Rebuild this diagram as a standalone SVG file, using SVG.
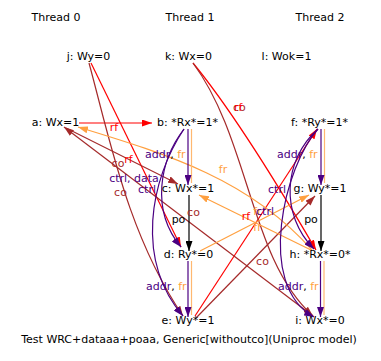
<svg xmlns="http://www.w3.org/2000/svg" width="381" height="361" viewBox="0 0 381 361">
<style>
text{font-family:"DejaVu Sans","Noto Sans",sans-serif;font-size:11px;fill:#000}
.m{text-anchor:middle}
.e{fill:none;stroke-width:1.2}
.rf{stroke:#ff0000}
.co{stroke:#a52a2a}
.fr{stroke:#ffa040}
.dp{stroke:#4b0082}
.po{stroke:#000}
.frs{stroke:#ffb870}
.lrf{fill:#ff0000}
.lco{fill:#a52a2a}
.lfr{fill:#ffa040}
.ldp{fill:#4b0082}
</style>
<defs>
<marker id="ar" markerUnits="userSpaceOnUse" markerWidth="10" markerHeight="7" refX="10" refY="3.5" orient="auto"><path d="M0,0L10,3.5L0,7z" fill="#ff0000"/></marker>
<marker id="ac" markerUnits="userSpaceOnUse" markerWidth="10" markerHeight="7" refX="10" refY="3.5" orient="auto"><path d="M0,0L10,3.5L0,7z" fill="#a52a2a"/></marker>
<marker id="af" markerUnits="userSpaceOnUse" markerWidth="10" markerHeight="7" refX="10" refY="3.5" orient="auto"><path d="M0,0L10,3.5L0,7z" fill="#ffa040"/></marker>
<marker id="ad" markerUnits="userSpaceOnUse" markerWidth="10" markerHeight="7" refX="10" refY="3.5" orient="auto"><path d="M0,0L10,3.5L0,7z" fill="#4b0082"/></marker>
<marker id="ap" markerUnits="userSpaceOnUse" markerWidth="10" markerHeight="7" refX="10" refY="3.5" orient="auto"><path d="M0,0L10,3.5L0,7z" fill="#000"/></marker>
</defs>
<rect width="381" height="361" fill="#fff"/>
<g id="headers">
<text class="m" x="56" y="21">Thread 0</text>
<text class="m" x="190" y="21">Thread 1</text>
<text class="m" x="320" y="21">Thread 2</text>
</g>
<g id="connectors">
<!-- red rf edges -->
<path class="e rf" d="M79,123L152,123" marker-end="url(#ar)"/>
<path class="e rf" d="M91,63L181,247" marker-end="url(#ar)"/>
<path class="e rf" d="M193,63Q240,120 316,250" marker-end="url(#ar)"/>
<path class="e rf" d="M195,316L317,129" marker-end="url(#ar)"/>
<!-- brown co edges -->
<path class="e co" d="M89,63C110,140 128,235 183,316" marker-end="url(#ac)"/>
<path class="e co" d="M193,63C250,140 250,260 313,316" marker-end="url(#ac)"/>
<path class="e co" d="M313,316L64,127" marker-end="url(#ac)"/>
<path class="e co" d="M66,128L178,184" marker-end="url(#ac)"/>
<path class="e co" d="M196,318L315,196" marker-end="url(#ac)"/>
<!-- orange fr edges -->
<path class="e fr" d="M200,251L309,195" marker-end="url(#af)"/>
<path class="e fr" d="M311,250L199,195" marker-end="url(#af)"/>
<path class="e fr" d="M312,250C250,180 170,155 78,127" marker-end="url(#af)"/>
<!-- purple dependency curves -->
<path class="e dp" d="M184,129C160,160 150,210 181,247" marker-end="url(#ad)"/>
<path class="e dp" d="M184,129C150,180 135,260 183,316" marker-end="url(#ad)"/>
<path class="e dp" d="M318,129C283,160 280,215 314,249" marker-end="url(#ad)"/>
<path class="e dp" d="M318,129C285,165 255,285 314,317" marker-end="url(#ad)"/>
<!-- program order verticals -->
<path class="e frs" d="M191.5,129L191.5,183"/>
<path class="e dp" d="M188,129L188,185" marker-end="url(#ad)"/>
<path class="e po" d="M189,195L189,251" marker-end="url(#ap)"/>
<path class="e frs" d="M191.5,261L191.5,315"/>
<path class="e dp" d="M188,261L188,317" marker-end="url(#ad)"/>
<path class="e frs" d="M324.5,129L324.5,183"/>
<path class="e dp" d="M321,129L321,185" marker-end="url(#ad)"/>
<path class="e po" d="M321,195L321,251" marker-end="url(#ap)"/>
<path class="e frs" d="M324,261L324,315"/>
<path class="e dp" d="M320.5,261L320.5,317" marker-end="url(#ad)"/>
<!-- labels -->
<text class="m lrf" x="114" y="131">rf</text>
<text class="m lco" x="118" y="167">co</text>
<text class="m lrf" x="128.5" y="163">rf</text>
<text class="m ldp" x="134" y="182">ctrl, data</text>
<text class="m ldp" x="147" y="193">ctrl</text>
<text class="m lco" x="120.5" y="196">co</text>
<text x="145" y="158"><tspan class="ldp">addr</tspan>, <tspan class="lfr">fr</tspan></text>
<text class="m lfr" x="223" y="173">fr</text>
<text class="m lco" x="193.5" y="216">co</text>
<text class="m" x="178.5" y="223">po</text>
<text class="lco" x="233" y="111">co</text>
<text class="lrf" x="234" y="111">rf</text>
<text x="277" y="158"><tspan class="ldp">addr</tspan>, <tspan class="lfr">fr</tspan></text>
<text class="m ldp" x="277" y="193">ctrl</text>
<text class="m" x="311" y="223">po</text>
<text class="m lrf" x="246" y="220">rf</text>
<text class="m lfr" x="257.5" y="215">fr</text>
<text class="m ldp" x="265" y="215">ctrl</text>
<text class="m lfr" x="257.5" y="231">fr</text>
<text class="m lco" x="262.5" y="265">co</text>
<text x="146" y="290"><tspan class="ldp">addr</tspan>, <tspan class="lfr">fr</tspan></text>
<text x="278" y="290"><tspan class="ldp">addr</tspan>, <tspan class="lfr">fr</tspan></text>
</g>
<g id="node-j"><text class="m" x="88.5" y="60">j: Wy=0</text></g>
<g id="node-k"><text class="m" x="188.5" y="60">k: Wx=0</text></g>
<g id="node-l"><text class="m" x="286.5" y="60">l: Wok=1</text></g>
<g id="node-a"><text class="m" x="55.5" y="126">a: Wx=1</text></g>
<g id="node-b"><text class="m" x="187.5" y="126">b: *Rx*=1*</text></g>
<g id="node-f"><text class="m" x="319.5" y="126">f: *Ry*=1*</text></g>
<g id="node-c"><text class="m" x="188" y="192">c: Wx*=1</text></g>
<g id="node-g"><text class="m" x="320" y="192">g: Wy*=1</text></g>
<g id="node-d"><text class="m" x="188.5" y="258">d: Ry*=0</text></g>
<g id="node-h"><text class="m" x="320" y="258">h: *Rx*=0*</text></g>
<g id="node-e"><text class="m" x="188" y="324">e: Wy*=1</text></g>
<g id="node-i"><text class="m" x="320" y="324">i: Wx*=0</text></g>
<text class="m" x="189" y="343">Test WRC+dataaa+poaa, Generic[withoutco](Uniproc model)</text>
</svg>
